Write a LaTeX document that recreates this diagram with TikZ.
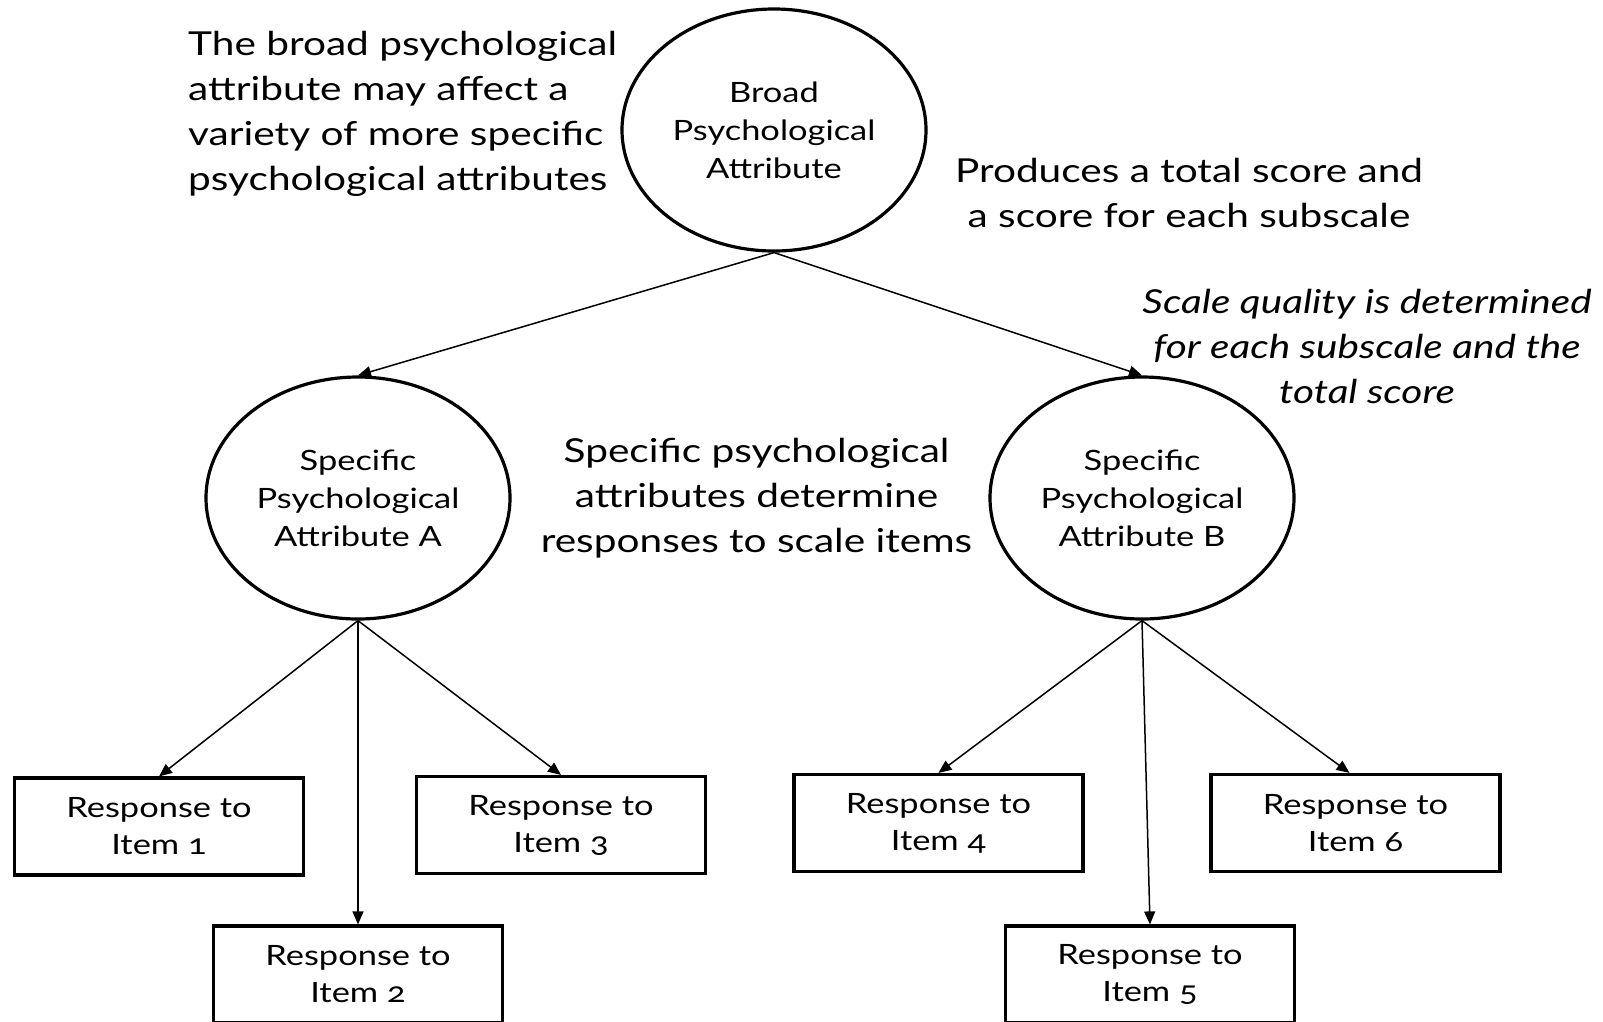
\documentclass[tikz,border=0pt]{standalone}
\usepackage{fontspec}
\setmainfont{Lato}[Numbers=OldStyle, FakeStretch=1.23]
\usetikzlibrary{shapes.geometric,arrows.meta}

\begin{document}
\begin{tikzpicture}[x=1pt,y=-1pt,
  attr/.style={draw, ellipse, line width=3.2pt, minimum width=304pt, minimum height=242pt,
    inner sep=0pt, align=center, font=\fontsize{28}{38}\selectfont},
  resp/.style={draw, rectangle, line width=3.2pt, minimum width=289pt, minimum height=97pt,
    inner sep=0pt, align=center, font=\fontsize{28}{37}\selectfont},
  link/.style={line width=1.5pt, -{Triangle[length=13pt,width=11pt]}},
  note/.style={font=\fontsize{33}{45}\selectfont, align=center, inner sep=0pt}
]
\useasboundingbox (0,0) rectangle (1603,1021);

% latent attributes
\node[attr] (broad) at (774,130) {Broad\\Psychological\\Attribute};
\node[attr] (attA) at (358,498) {Specific\\Psychological\\Attribute A};
\node[attr] (attB) at (1142,498) {Specific\\Psychological\\Attribute B};

% observed item responses
\node[resp] (r1) at (159,826.5) {Response to\\Item 1};
\node[resp] (r2) at (358,974.5) {Response to\\Item 2};
\node[resp] (r3) at (561,825) {Response to\\Item 3};
\node[resp] (r4) at (938.5,823) {Response to\\Item 4};
\node[resp] (r5) at (1150,974.5) {Response to\\Item 5};
\node[resp] (r6) at (1355.5,823) {Response to\\Item 6};

% causal paths
\draw[link] (broad.south) -- (attA.north);
\draw[link] (broad.south) -- (attB.north);
\draw[link] (attA.south) -- (r1.north);
\draw[link] (attA.south) -- (r2.north);
\draw[link] (attA.south) -- (r3.north);
\draw[link] (attB.south) -- (r4.north);
\draw[link] (attB.south) -- (r5.north);
\draw[link] (attB.south) -- ([xshift=-6pt]r6.north);

% annotations
\node[note, align=left, anchor=west] (nBroad) at (188,114)
  {The broad psychological\\attribute may affect a\\variety of more specific\\psychological attributes};
\node[note] (nTotal) at (1189,193) {Produces a total score and\\a score for each subscale};
\node[note, font=\fontsize{33}{45}\selectfont\itshape] (nQuality) at (1367,346)
  {Scale quality is determined\\for each subscale and the\\total score};
\node[note] (nSpecific) at (756.5,498)
  {Specific psychological\\attributes determine\\responses to scale items};
\end{tikzpicture}
\end{document}
